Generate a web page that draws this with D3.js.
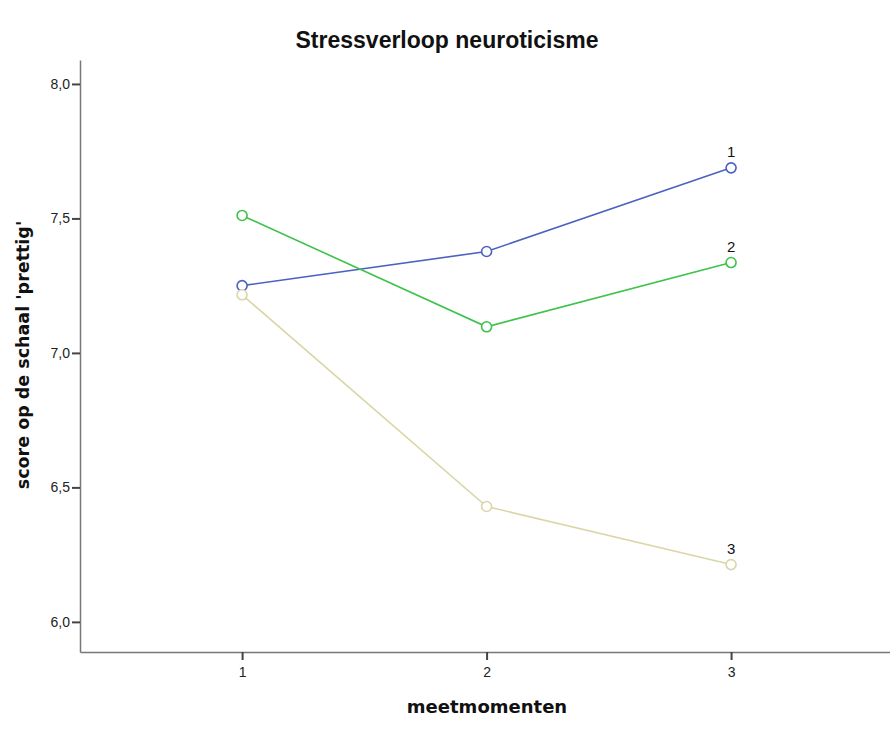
<!DOCTYPE html>
<html>
<head>
<meta charset="utf-8">
<script src="https://cdn.jsdelivr.net/npm/d3@7"></script>
<style>
  body { margin: 0; background: #fff; }
  svg { display: block; }
</style>
</head>
<body>
<div id="chart"></div>
<script>
const width = 890;
const height = 731;

// meetmomenten
const moments = [1, 2, 3];
const groupNames = ["1", "2", "3"];
const group1 = [7.25, 7.377, 7.688];
const group2 = [7.511, 7.097, 7.336];
const group3 = [7.216, 6.429, 6.213];
const groupColors = ["#4a62c0", "#3dc24a", "#dbd6a8"];
const yTicks = [6.0, 6.5, 7.0, 7.5, 8.0];

const series = [group1, group2, group3].map((vals, i) => ({
    name: groupNames[i],
    color: groupColors[i],
    points: vals.map((v, j) => ({x: moments[j], y: v}))
}));

const plotLeft = 80, plotRight = 890, plotTop = 60, plotBottom = 652;

const x = d3.scaleLinear()
    .domain([0.337, 3.65])
    .range([plotLeft, plotRight]);

const y = d3.scaleLinear()
    .domain([5.888, 8.089])
    .range([plotBottom, plotTop]);

const svg = d3.select("#chart")
    .append("svg")
        .attr("width", width)
        .attr("height", height);

svg.append("text")
    .attr("x", 447)
    .attr("y", 48)
    .attr("text-anchor", "middle")
    .attr("font-family", "Liberation Sans, Arial, sans-serif")
    .attr("font-weight", "bold")
    .attr("font-size", 23)
    .attr("fill", "#111")
    .text("Stressverloop neuroticisme");

const fmt = d => d.toFixed(1).replace(".", ",");

// y axis
const yAxis = svg.append("g")
    .attr("transform", `translate(${plotLeft},0)`)
    .call(d3.axisLeft(y).tickValues(yTicks).tickFormat(fmt).tickSize(8).tickSizeOuter(0).tickPadding(2));

// x axis
const xAxis = svg.append("g")
    .attr("transform", `translate(0,${plotBottom})`)
    .call(d3.axisBottom(x).tickValues(moments).tickFormat(d3.format("d")).tickSize(8).tickSizeOuter(0).tickPadding(7));

[yAxis, xAxis].forEach(g => {
    g.select(".domain").attr("stroke", "#777").attr("stroke-width", 1.5);
    g.selectAll(".tick line").attr("stroke", "#444").attr("stroke-width", 2);
    g.selectAll(".tick text")
        .attr("font-family", "Liberation Sans, Arial, sans-serif")
        .attr("font-size", 14)
        .attr("fill", "#222");
});

svg.append("text")
    .attr("x", 487)
    .attr("y", 713)
    .attr("text-anchor", "middle")
    .attr("font-family", "DejaVu Sans, sans-serif")
    .attr("font-weight", "bold")
    .attr("font-size", 18)
    .attr("fill", "#111")
    .text("meetmomenten");

svg.append("text")
    .attr("transform", `translate(29,355) rotate(-90)`)
    .attr("text-anchor", "middle")
    .attr("font-family", "DejaVu Sans, sans-serif")
    .attr("font-weight", "bold")
    .attr("font-size", 17.5)
    .attr("fill", "#111")
    .text("score op de schaal 'prettig'");

const line = d3.line()
    .x(d => x(d.x))
    .y(d => y(d.y));

const grp = svg.append("g")
    .selectAll("g")
    .data(series)
    .join("g");

grp.append("path")
    .attr("d", d => line(d.points))
    .attr("fill", "none")
    .attr("stroke", d => d.color)
    .attr("stroke-width", 1.6);

grp.selectAll("circle")
    .data(d => d.points.map(p => ({...p, color: d.color})))
    .join("circle")
        .attr("cx", d => x(d.x))
        .attr("cy", d => y(d.y))
        .attr("r", 5)
        .attr("fill", "#fff")
        .attr("stroke", d => d.color)
        .attr("stroke-width", 1.6);

grp.append("text")
    .attr("x", d => x(d.points[2].x))
    .attr("y", d => y(d.points[2].y) - 11)
    .attr("text-anchor", "middle")
    .attr("font-family", "Liberation Sans, Arial, sans-serif")
    .attr("font-size", 15)
    .attr("fill", "#111")
    .text(d => d.name);
</script>
</body>
</html>
